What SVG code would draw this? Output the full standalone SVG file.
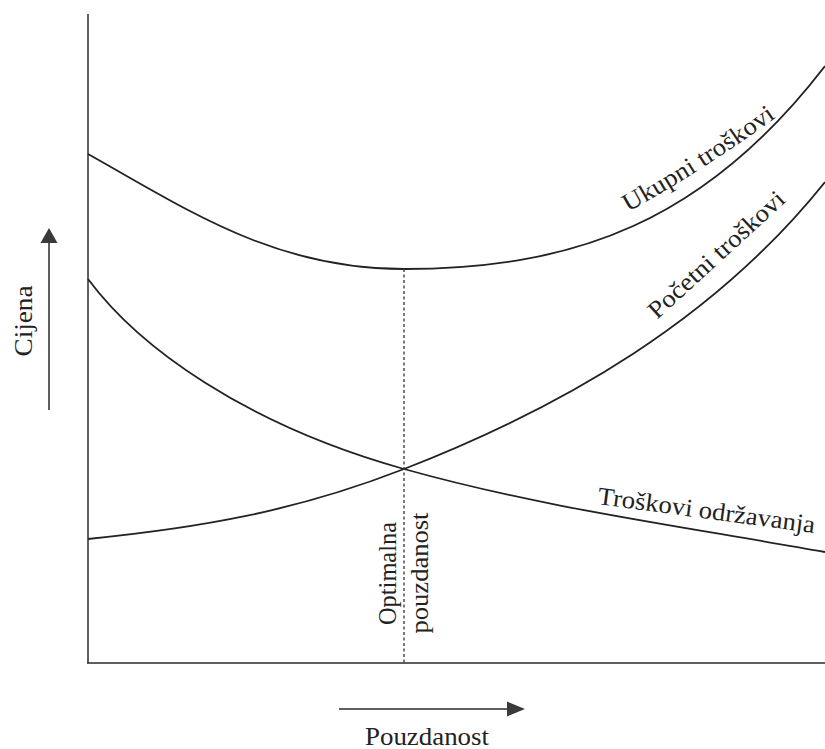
<svg xmlns="http://www.w3.org/2000/svg" width="825" height="749" viewBox="0 0 825 749">
<defs>
<style>
.ax{stroke:#2a2a2a;stroke-width:1.5;fill:none}
.cv{stroke:#222;stroke-width:1.8;fill:none}
.dash{stroke:#333;stroke-width:1.3;stroke-dasharray:3 2.5;fill:none}
.t{font-family:"Liberation Serif","Times New Roman",serif;font-size:25px;fill:#222}
.ah{fill:#3a3a3a}
</style>
</defs>
<rect width="825" height="749" fill="#fff"/>
<g id="axes">
<line class="ax" x1="88" y1="14" x2="88" y2="663"/>
<line class="ax" x1="87" y1="663" x2="825" y2="663"/>
</g>
<g id="connectors">
<path id="ukupni-curve" class="cv" d="M88,154 C188,210 274,269 404,269 C574,269 705,222 825,66"/>
<path id="pocetni-curve" class="cv" d="M88,539 C198,528 294,511.9 404,469 C564,406.6 715,319.5 825,182"/>
<path id="odrzavanje-curve" class="cv" d="M88,279 C138,346.5 244,424.2 404,469 C544,508.2 685,526.8 825,552"/>
<line id="optimum-line" class="dash" x1="404" y1="269" x2="404" y2="663"/>
</g>
<g id="y-arrow">
<line class="ax" x1="49" y1="410" x2="49" y2="240"/>
<polygon class="ah" points="49,228 40.5,243 57.5,243"/>
<text class="t" transform="translate(32,321) rotate(-90)" text-anchor="middle" textLength="71" lengthAdjust="spacingAndGlyphs">Cijena</text>
</g>
<g id="x-arrow">
<line class="ax" x1="339" y1="709" x2="510" y2="709"/>
<polygon class="ah" points="525,709 507,701.5 507,716.5"/>
<text class="t" x="427" y="745" text-anchor="middle" textLength="124" lengthAdjust="spacingAndGlyphs">Pouzdanost</text>
</g>
<g id="label-ukupni">
<path id="ukupni-text-path" d="M628,212 Q704,170 778,116" fill="none"/>
<text class="t"><textPath href="#ukupni-text-path" textLength="176" lengthAdjust="spacingAndGlyphs">Ukupni troškovi</textPath></text>
</g>
<g id="label-pocetni">
<text class="t" transform="translate(657,320) rotate(-42.5)" textLength="176" lengthAdjust="spacingAndGlyphs">Početni troškovi</text>
</g>
<g id="label-odrzavanje">
<text class="t" transform="translate(597,504) rotate(7.6)" textLength="219" lengthAdjust="spacingAndGlyphs">Troškovi održavanja</text>
</g>
<g id="label-optimum">
<text class="t" transform="translate(396,573.5) rotate(-90)" text-anchor="middle" textLength="103" lengthAdjust="spacingAndGlyphs">Optimalna</text>
<text class="t" transform="translate(428,573) rotate(-90)" text-anchor="middle" textLength="121" lengthAdjust="spacingAndGlyphs">pouzdanost</text>
</g>
</svg>
